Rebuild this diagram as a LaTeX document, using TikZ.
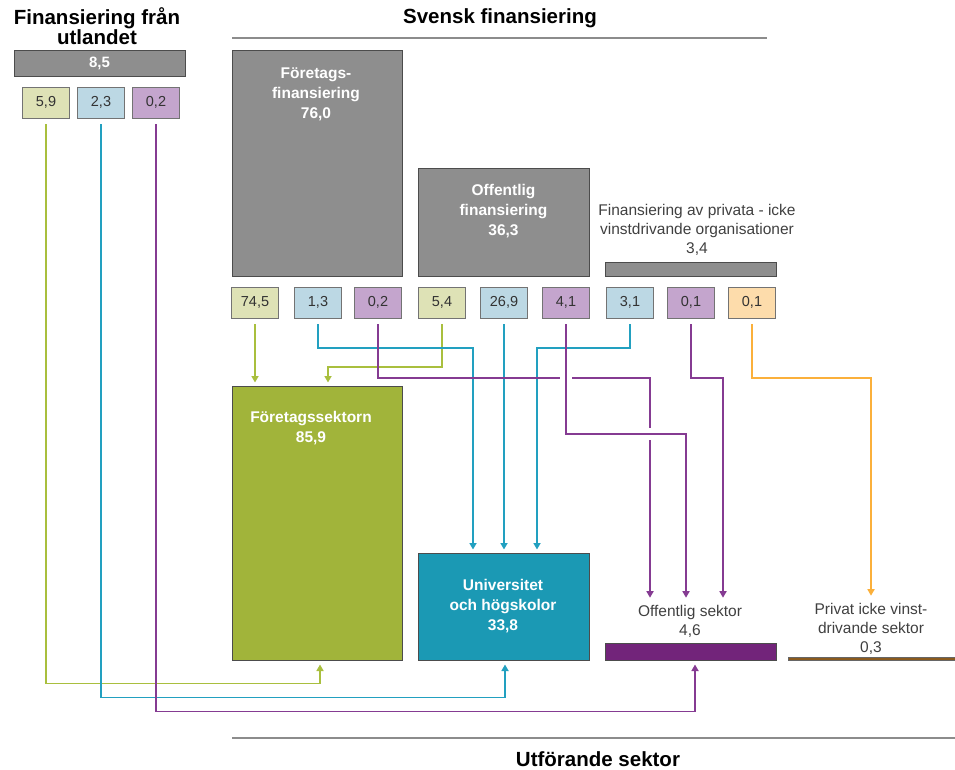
\documentclass[tikz,border=0pt]{standalone}
\usepackage{fontspec}
\setmainfont{Liberation Sans}
\usetikzlibrary{arrows.meta}

\definecolor{boxgray}{HTML}{8E8E8E}
\definecolor{lgreen}{HTML}{DEE2B6}
\definecolor{lblue}{HTML}{BCD8E4}
\definecolor{lpurple}{HTML}{C4A5CD}
\definecolor{lorange}{HTML}{FDDCAB}
\definecolor{sgreen}{HTML}{A1B43A}
\definecolor{steal}{HTML}{1B99B4}
\definecolor{spurple}{HTML}{72247A}
\definecolor{sbrown}{HTML}{8A5A1E}
\definecolor{cgreen}{HTML}{A9BF3E}
\definecolor{cteal}{HTML}{22A0C0}
\definecolor{cpurple}{HTML}{853B92}
\definecolor{corange}{HTML}{FBB03B}

\tikzset{
  bar/.style={draw=black!70, line width=1pt, fill=boxgray, inner sep=0pt},
  val/.style={draw=black!55, line width=0.8pt, minimum width=47pt, minimum height=31pt,
    inner sep=0pt, text=black!80, font=\fontsize{14.5}{17}\selectfont},
  boxtext/.style={text=white, align=center, inner sep=0pt, font=\fontsize{15.5}{20}\selectfont\bfseries},
  plain/.style={text=black!75, align=center, inner sep=0pt, font=\fontsize{15.5}{19}\selectfont},
  title/.style={align=center, inner sep=0pt, font=\fontsize{20.5}{19}\selectfont\bfseries},
  link/.style={line width=1.9pt, ->, shorten <=6pt, shorten >=3pt},
  glink/.style={link, cgreen},
  tlink/.style={link, cteal},
  plink/.style={link, cpurple},
  olink/.style={link, corange}
}

\begin{document}
\begin{tikzpicture}[x=1pt, y=-1pt, >={Triangle[length=6.5pt,width=7pt]}]
\useasboundingbox (0,0) rectangle (955,769);

% rubriker
\node[title] (tutl) at (97,26.5) {Finansiering från\\utlandet};
\node[title] (tsv) at (500,18) {Svensk finansiering};
\node[title] (tutf) at (598,759) {Utförande sektor};
\draw[black!45, line width=1.5pt] (232,38) -- (767,38);
\draw[black!45, line width=1.5pt] (232,738) -- (955,738);

% finansiering
\node[bar, minimum width=171pt, minimum height=26pt, text=white,
  font=\fontsize{15}{17}\selectfont\bfseries] (utl) at (99.5,63) {8,5};
\node[val, fill=lgreen] (u59) at (46,102.5) {5,9};
\node[val, fill=lblue] (u23) at (101,102.5) {2,3};
\node[val, fill=lpurple] (u02) at (156,102.5) {0,2};

\node[bar, minimum width=170pt, minimum height=226pt] (ffin) at (317,163) {};
\node[boxtext] (ffintxt) at (316,94) {Företags-\\finansiering\\76,0};
\node[bar, minimum width=171pt, minimum height=108pt] (ofin) at (503.5,222) {};
\node[boxtext] (ofintxt) at (503.5,211) {Offentlig\\finansiering\\36,3};
\node[plain] (pftxt) at (697,229.5) {Finansiering av privata - icke\\vinstdrivande organisationer\\3,4};
\node[bar, minimum width=171pt, minimum height=14pt] (pfin) at (690.5,269) {};

\node[val, fill=lgreen] (b745) at (255,302.5) {74,5};
\node[val, fill=lblue] (b13) at (318,302.5) {1,3};
\node[val, fill=lpurple] (b02) at (378,302.5) {0,2};
\node[val, fill=lgreen] (b54) at (442,302.5) {5,4};
\node[val, fill=lblue] (b269) at (504,302.5) {26,9};
\node[val, fill=lpurple] (b41) at (566,302.5) {4,1};
\node[val, fill=lblue] (b31) at (630,302.5) {3,1};
\node[val, fill=lpurple] (b01a) at (691,302.5) {0,1};
\node[val, fill=lorange] (b01b) at (752,302.5) {0,1};

% utförande sektorer
\node[bar, fill=sgreen, minimum width=170pt, minimum height=274pt] (fsek) at (317,523) {};
\node[boxtext] (fsektxt) at (311,428) {Företagssektorn\\85,9};
\node[bar, fill=steal, minimum width=171pt, minimum height=107pt] (univ) at (503.5,606.5) {};
\node[boxtext] (univtxt) at (503,606.5) {Universitet\\och högskolor\\33,8};
\node[plain] (ostxt) at (690,621) {Offentlig sektor\\4,6};
\node[bar, fill=spurple, minimum width=171pt, minimum height=17pt] (osek) at (690.5,651.5) {};
\node[plain] (pstxt) at (871,628.5) {Privat icke vinst-\\drivande sektor\\0,3};
\node[bar, fill=sbrown, draw=black!60, line width=0.6pt, minimum width=167pt, minimum height=3pt] (psek) at (871.5,658.5) {};

% flöden
\draw[glink] (b745.south) -- (b745.south |- fsek.north);
\draw[glink] (b54.south) |- (328,367) -- ([xshift=11pt]fsek.north);
\draw[tlink] (b13.south) |- (473,348) -- ([xshift=-30.5pt]univ.north);
\draw[tlink] (b269.south) -- (b269.south |- univ.north);
\draw[tlink] (b31.south) |- (537,348) -- ([xshift=33.5pt]univ.north);
\draw[plink] (b02.south) |- (650,378) -- ([xshift=-40pt,yshift=4pt]ostxt.north);
\fill[white] (560,374) rectangle (572,382);
\fill[white] (646,428) rectangle (654,440);
\draw[plink] (b41.south) |- (686,434) -- ([xshift=-4pt,yshift=4pt]ostxt.north);
\draw[plink] (b01a.south) |- (723,378) -- ([xshift=33pt,yshift=4pt]ostxt.north);
\draw[olink] (b01b.south) |- (871,378) -- ([yshift=4pt]pstxt.north);

\draw[glink, shorten >=4pt] (u59.south) |- ([xshift=3pt,yshift=-23pt]fsek.south) -- ([xshift=3pt]fsek.south);
\draw[tlink, shorten >=4pt] (u23.south) |- ([xshift=1.5pt,yshift=-37pt]univ.south) -- ([xshift=1.5pt]univ.south);
\draw[plink, shorten >=4pt] (u02.south) |- ([xshift=4.5pt,yshift=-51pt]osek.south) -- ([xshift=4.5pt]osek.south);
\end{tikzpicture}
\end{document}
